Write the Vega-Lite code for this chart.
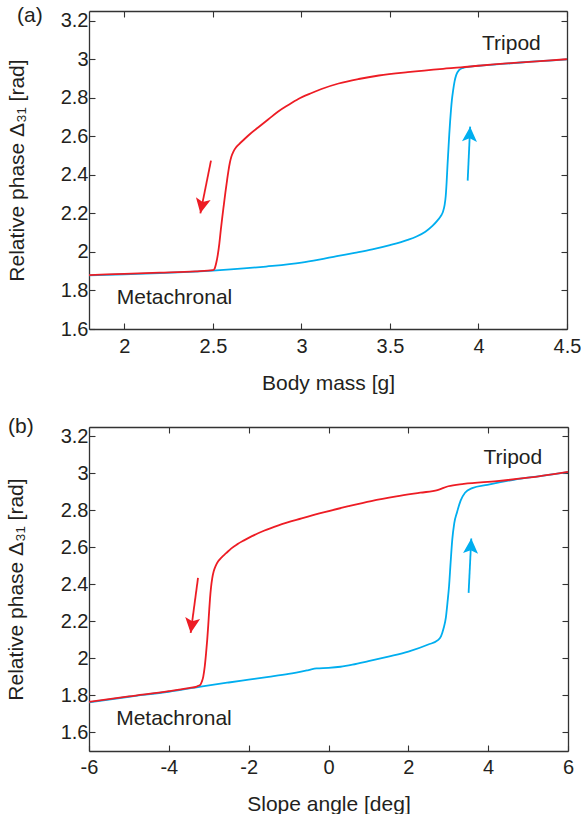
{
  "$schema": "https://vega.github.io/schema/vega-lite/v6.json",
  "background": "white",
  "padding": {"left": 5, "top": 4, "right": 0, "bottom": 0},
  "spacing": 22,
  "config": {
    "view": {"stroke": null},
    "font": "Liberation Sans",
    "axis": {
      "domainColor": "#333333", "domainWidth": 1.3,
      "tickColor": "#333333", "tickWidth": 1.1, "tickSize": -6,
      "labelFont": "Liberation Sans", "labelFontSize": 20, "labelColor": "#231f20", "labelFlush": false, "labelOverlap": false,
      "titleFont": "Liberation Sans", "titleFontSize": 21, "titleFontWeight": "normal", "titleColor": "#231f20",
      "grid": false
    },
    "title": {"font": "Liberation Sans", "fontSize": 21, "fontWeight": "normal", "color": "#231f20"}
  },
  "datasets": {
    "a_blue": [
      {"x":1.8,"y":1.878},{"x":2.0,"y":1.884},{"x":2.2,"y":1.89},{"x":2.4,"y":1.898},{"x":2.5,"y":1.903},{"x":2.6,"y":1.909},{"x":2.8,"y":1.924},{"x":3.0,"y":1.944},{"x":3.1,"y":1.96},{"x":3.2,"y":1.978},{"x":3.3,"y":1.995},{"x":3.4,"y":2.013},{"x":3.5,"y":2.035},{"x":3.6,"y":2.062},{"x":3.65,"y":2.08},{"x":3.7,"y":2.105},{"x":3.74,"y":2.135},{"x":3.77,"y":2.165},{"x":3.79,"y":2.19},{"x":3.8,"y":2.21},{"x":3.808,"y":2.24},{"x":3.815,"y":2.29},{"x":3.82,"y":2.36},{"x":3.825,"y":2.45},{"x":3.83,"y":2.53},{"x":3.835,"y":2.61},{"x":3.84,"y":2.68},{"x":3.845,"y":2.74},{"x":3.85,"y":2.79},{"x":3.857,"y":2.84},{"x":3.865,"y":2.885},{"x":3.875,"y":2.92},{"x":3.89,"y":2.943},{"x":3.91,"y":2.954},{"x":3.95,"y":2.961},{"x":4.0,"y":2.966},{"x":4.1,"y":2.973},{"x":4.2,"y":2.98},{"x":4.3,"y":2.987},{"x":4.4,"y":2.993},{"x":4.5,"y":2.999}
    ],
    "a_red": [
      {"x":1.8,"y":1.88},{"x":2.0,"y":1.886},{"x":2.2,"y":1.892},{"x":2.4,"y":1.899},{"x":2.5,"y":1.905},{"x":2.5089,"y":1.9122},{"x":2.5192,"y":1.9449},{"x":2.5277,"y":1.9864},{"x":2.5362,"y":2.0435},{"x":2.5447,"y":2.1161},{"x":2.5533,"y":2.1836},{"x":2.5618,"y":2.2459},{"x":2.5703,"y":2.3081},{"x":2.5789,"y":2.3652},{"x":2.5874,"y":2.4197},{"x":2.5959,"y":2.4638},{"x":2.6044,"y":2.495},{"x":2.6158,"y":2.5209},{"x":2.63,"y":2.5417},{"x":2.647,"y":2.5583},{"x":2.6755,"y":2.5832},{"x":2.7096,"y":2.6117},{"x":2.7551,"y":2.6454},{"x":2.8118,"y":2.687},{"x":2.8687,"y":2.7285},{"x":2.9255,"y":2.7622},{"x":2.9824,"y":2.7934},{"x":3.0506,"y":2.8219},{"x":3.1132,"y":2.8453},{"x":3.2098,"y":2.8738},{"x":3.3235,"y":2.8972},{"x":3.4372,"y":2.9153},{"x":3.6,"y":2.933},{"x":3.8,"y":2.95},{"x":3.9,"y":2.957},{"x":4.0,"y":2.966},{"x":4.2,"y":2.981},{"x":4.35,"y":2.99},{"x":4.5,"y":3.0}
    ],
    "b_blue": [
      {"x":-6,"y":1.763},{"x":-5,"y":1.793},{"x":-4,"y":1.82},{"x":-3.2,"y":1.848},{"x":-2.5,"y":1.87},{"x":-2,"y":1.885},{"x":-1.5,"y":1.9},{"x":-1,"y":1.916},{"x":-0.5,"y":1.937},{"x":-0.3,"y":1.946},{"x":0,"y":1.949},{"x":0.3,"y":1.955},{"x":0.6,"y":1.966},{"x":1,"y":1.985},{"x":1.5,"y":2.01},{"x":2,"y":2.037},{"x":2.5,"y":2.075},{"x":2.75,"y":2.1},{"x":2.82,"y":2.12},{"x":2.88,"y":2.16},{"x":2.94,"y":2.22},{"x":2.98,"y":2.3},{"x":3.02,"y":2.39},{"x":3.06,"y":2.52},{"x":3.1,"y":2.64},{"x":3.15,"y":2.73},{"x":3.22,"y":2.79},{"x":3.31,"y":2.852},{"x":3.42,"y":2.895},{"x":3.6,"y":2.92},{"x":3.98,"y":2.938},{"x":4.64,"y":2.965},{"x":5.3,"y":2.985},{"x":6,"y":3.006}
    ],
    "b_red": [
      {"x":-6,"y":1.765},{"x":-5,"y":1.795},{"x":-4,"y":1.823},{"x":-3.5,"y":1.84},{"x":-3.3,"y":1.848},{"x":-3.2616,"y":1.8521},{"x":-3.2119,"y":1.8575},{"x":-3.1745,"y":1.8737},{"x":-3.1372,"y":1.9021},{"x":-3.1,"y":1.9571},{"x":-3.0675,"y":2.0274},{"x":-3.0376,"y":2.103},{"x":-3.0127,"y":2.1787},{"x":-2.9903,"y":2.2543},{"x":-2.9679,"y":2.3245},{"x":-2.943,"y":2.384},{"x":-2.9131,"y":2.4326},{"x":-2.8758,"y":2.4704},{"x":-2.826,"y":2.5003},{"x":-2.7638,"y":2.5246},{"x":-2.6766,"y":2.5462},{"x":-2.5646,"y":2.5683},{"x":-2.4401,"y":2.5933},{"x":-2.2908,"y":2.616},{"x":-2.1165,"y":2.6376},{"x":-1.9173,"y":2.6603},{"x":-1.6186,"y":2.6895},{"x":-1.2527,"y":2.7187},{"x":-0.6727,"y":2.7559},{"x":-0.1,"y":2.79},{"x":0.5,"y":2.822},{"x":1.07,"y":2.85},{"x":1.7,"y":2.875},{"x":2.3,"y":2.895},{"x":2.73,"y":2.909},{"x":3.0,"y":2.93},{"x":3.39,"y":2.943},{"x":4.22,"y":2.958},{"x":5,"y":2.976},{"x":6,"y":3.008}
    ],
    "arrows": [
      {"panel":"a","dir":"down","x":2.489,"y":2.474,"x2":2.429,"y2":2.2},
      {"panel":"a","dir":"up","x":3.939,"y":2.37,"x2":3.953,"y2":2.65},
      {"panel":"b","dir":"down","x":-3.269,"y":2.435,"x2":-3.453,"y2":2.138},
      {"panel":"b","dir":"up","x":3.51,"y":2.354,"x2":3.577,"y2":2.648}
    ],
    "labels": [
      {"panel":"a","label":"Tripod","x":4.186,"y":3.05},
      {"panel":"a","label":"Metachronal","x":2.283,"y":1.73},
      {"panel":"b","label":"Tripod","x":4.617,"y":3.051},
      {"panel":"b","label":"Metachronal","x":-3.872,"y":1.642}
    ]
  },
  "vconcat": [
    {
      "width": 478, "height": 318,
      "title": {"text": "(a)", "anchor": "start", "frame": "group", "orient": "top", "offset": -15.5, "dx": -72},
      "resolve": {"axis": {"x": "independent", "y": "independent"}},
      "layer": [
        {
          "data": {"name": "a_blue"},
          "mark": {"type": "line", "color": "#00aeef", "strokeWidth": 1.8, "interpolate": "monotone"},
          "encoding": {
            "x": {"field": "x", "type": "quantitative", "scale": {"domain": [1.8, 4.5], "nice": false, "zero": false},
                  "axis": {"orient": "bottom", "title": "Body mass [g]", "values": [2, 2.5, 3, 3.5, 4, 4.5], "labelExpr": "'' + datum.value", "labelPadding": 13, "titlePadding": 16}},
            "y": {"field": "y", "type": "quantitative", "scale": {"domain": [1.6, 3.25], "nice": false, "zero": false},
                  "axis": {"orient": "left", "title": "Relative phase Δ₃₁ [rad]", "values": [1.6, 1.8, 2, 2.2, 2.4, 2.6, 2.8, 3, 3.2], "labelExpr": "'' + datum.value", "labelPadding": 7, "titlePadding": 33}}
          }
        },
        {
          "data": {"name": "a_red"},
          "mark": {"type": "line", "color": "#ed1c24", "strokeWidth": 1.8, "interpolate": "monotone"},
          "encoding": {
            "x": {"field": "x", "type": "quantitative", "scale": {"domain": [1.8, 4.5], "nice": false, "zero": false},
                  "axis": {"orient": "top", "title": null, "labels": false, "values": [2, 2.5, 3, 3.5, 4, 4.5]}},
            "y": {"field": "y", "type": "quantitative", "scale": {"domain": [1.6, 3.25], "nice": false, "zero": false},
                  "axis": {"orient": "right", "title": null, "labels": false, "values": [1.6, 1.8, 2, 2.2, 2.4, 2.6, 2.8, 3, 3.2]}}
          }
        },
        {
          "data": {"name": "arrows"},
          "transform": [{"filter": "datum.panel === 'a'"}],
          "mark": {"type": "rule", "strokeWidth": 1.8},
          "encoding": {
            "x": {"field": "x", "type": "quantitative", "scale": {"domain": [1.8, 4.5], "nice": false, "zero": false}, "axis": null},
            "y": {"field": "y", "type": "quantitative", "scale": {"domain": [1.6, 3.25], "nice": false, "zero": false}, "axis": null},
            "x2": {"field": "x2"},
            "y2": {"field": "y2"},
            "color": {"field": "dir", "type": "nominal", "scale": {"domain": ["down", "up"], "range": ["#ed1c24", "#00aeef"]}, "legend": null}
          }
        },
        {
          "data": {"name": "arrows"},
          "transform": [{"filter": "datum.panel === 'a' && datum.dir === 'down'"}],
          "mark": {"type": "point", "shape": "M0,0L0.5,1L0,0.78L-0.5,1Z", "size": 900, "filled": true, "opacity": 1, "color": "#ed1c24", "angle": 191.3},
          "encoding": {
            "x": {"field": "x2", "type": "quantitative", "scale": {"domain": [1.8, 4.5], "nice": false, "zero": false}, "axis": null},
            "y": {"field": "y2", "type": "quantitative", "scale": {"domain": [1.6, 3.25], "nice": false, "zero": false}, "axis": null}
          }
        },
        {
          "data": {"name": "arrows"},
          "transform": [{"filter": "datum.panel === 'a' && datum.dir === 'up'"}],
          "mark": {"type": "point", "shape": "M0,0L0.5,1L0,0.78L-0.5,1Z", "size": 900, "filled": true, "opacity": 1, "color": "#00aeef", "angle": 2.6},
          "encoding": {
            "x": {"field": "x2", "type": "quantitative", "scale": {"domain": [1.8, 4.5], "nice": false, "zero": false}, "axis": null},
            "y": {"field": "y2", "type": "quantitative", "scale": {"domain": [1.6, 3.25], "nice": false, "zero": false}, "axis": null}
          }
        },
        {
          "data": {"name": "labels"},
          "transform": [{"filter": "datum.panel === 'a'"}],
          "mark": {"type": "text", "font": "Liberation Sans", "fontSize": 21, "color": "#231f20", "align": "center", "baseline": "alphabetic"},
          "encoding": {
            "x": {"field": "x", "type": "quantitative", "scale": {"domain": [1.8, 4.5], "nice": false, "zero": false}, "axis": null},
            "y": {"field": "y", "type": "quantitative", "scale": {"domain": [1.6, 3.25], "nice": false, "zero": false}, "axis": null},
            "text": {"field": "label"}
          }
        }
      ]
    },
    {
      "width": 479, "height": 324,
      "title": {"text": "(b)", "anchor": "start", "frame": "group", "orient": "top", "offset": -10.5, "dx": -81},
      "resolve": {"axis": {"x": "independent", "y": "independent"}},
      "layer": [
        {
          "data": {"name": "b_blue"},
          "mark": {"type": "line", "color": "#00aeef", "strokeWidth": 1.8, "interpolate": "monotone"},
          "encoding": {
            "x": {"field": "x", "type": "quantitative", "scale": {"domain": [-6, 6], "nice": false, "zero": false},
                  "axis": {"orient": "bottom", "title": "Slope angle [deg]", "values": [-6, -4, -2, 0, 2, 4, 6], "labelExpr": "'' + datum.value", "labelPadding": 12, "titlePadding": 16}},
            "y": {"field": "y", "type": "quantitative", "scale": {"domain": [1.5, 3.25], "nice": false, "zero": false},
                  "axis": {"orient": "left", "title": "Relative phase Δ₃₁ [rad]", "values": [1.6, 1.8, 2, 2.2, 2.4, 2.6, 2.8, 3, 3.2], "labelExpr": "'' + datum.value", "labelPadding": 7, "titlePadding": 34}}
          }
        },
        {
          "data": {"name": "b_red"},
          "mark": {"type": "line", "color": "#ed1c24", "strokeWidth": 1.8, "interpolate": "monotone"},
          "encoding": {
            "x": {"field": "x", "type": "quantitative", "scale": {"domain": [-6, 6], "nice": false, "zero": false},
                  "axis": {"orient": "top", "title": null, "labels": false, "values": [-6, -4, -2, 0, 2, 4, 6]}},
            "y": {"field": "y", "type": "quantitative", "scale": {"domain": [1.5, 3.25], "nice": false, "zero": false},
                  "axis": {"orient": "right", "title": null, "labels": false, "values": [1.6, 1.8, 2, 2.2, 2.4, 2.6, 2.8, 3, 3.2]}}
          }
        },
        {
          "data": {"name": "arrows"},
          "transform": [{"filter": "datum.panel === 'b'"}],
          "mark": {"type": "rule", "strokeWidth": 1.8},
          "encoding": {
            "x": {"field": "x", "type": "quantitative", "scale": {"domain": [-6, 6], "nice": false, "zero": false}, "axis": null},
            "y": {"field": "y", "type": "quantitative", "scale": {"domain": [1.5, 3.25], "nice": false, "zero": false}, "axis": null},
            "x2": {"field": "x2"},
            "y2": {"field": "y2"},
            "color": {"field": "dir", "type": "nominal", "scale": {"domain": ["down", "up"], "range": ["#ed1c24", "#00aeef"]}, "legend": null}
          }
        },
        {
          "data": {"name": "arrows"},
          "transform": [{"filter": "datum.panel === 'b' && datum.dir === 'down'"}],
          "mark": {"type": "point", "shape": "M0,0L0.5,1L0,0.78L-0.5,1Z", "size": 900, "filled": true, "opacity": 1, "color": "#ed1c24", "angle": 187.7},
          "encoding": {
            "x": {"field": "x2", "type": "quantitative", "scale": {"domain": [-6, 6], "nice": false, "zero": false}, "axis": null},
            "y": {"field": "y2", "type": "quantitative", "scale": {"domain": [1.5, 3.25], "nice": false, "zero": false}, "axis": null}
          }
        },
        {
          "data": {"name": "arrows"},
          "transform": [{"filter": "datum.panel === 'b' && datum.dir === 'up'"}],
          "mark": {"type": "point", "shape": "M0,0L0.5,1L0,0.78L-0.5,1Z", "size": 900, "filled": true, "opacity": 1, "color": "#00aeef", "angle": 2.8},
          "encoding": {
            "x": {"field": "x2", "type": "quantitative", "scale": {"domain": [-6, 6], "nice": false, "zero": false}, "axis": null},
            "y": {"field": "y2", "type": "quantitative", "scale": {"domain": [1.5, 3.25], "nice": false, "zero": false}, "axis": null}
          }
        },
        {
          "data": {"name": "labels"},
          "transform": [{"filter": "datum.panel === 'b'"}],
          "mark": {"type": "text", "font": "Liberation Sans", "fontSize": 21, "color": "#231f20", "align": "center", "baseline": "alphabetic"},
          "encoding": {
            "x": {"field": "x", "type": "quantitative", "scale": {"domain": [-6, 6], "nice": false, "zero": false}, "axis": null},
            "y": {"field": "y", "type": "quantitative", "scale": {"domain": [1.5, 3.25], "nice": false, "zero": false}, "axis": null},
            "text": {"field": "label"}
          }
        }
      ]
    }
  ]
}
